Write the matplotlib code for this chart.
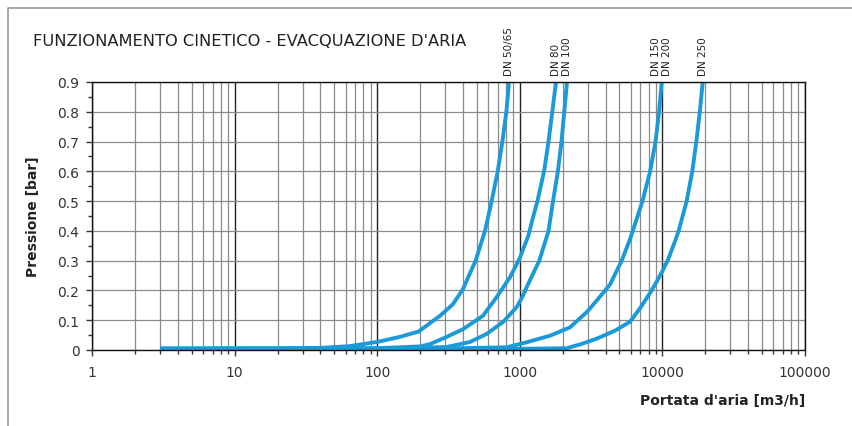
import matplotlib.pyplot as plt
from matplotlib.lines import Line2D
from matplotlib.ticker import FixedLocator, LogLocator, NullFormatter

# curves (flow m3/h, pressure bar)
x_dn50 = [3, 20, 40, 64, 100, 144, 195, 276, 340, 400, 440, 490, 570, 635, 700, 755, 805, 840]
y_dn50 = [0.005, 0.005, 0.007, 0.013, 0.027, 0.044, 0.062, 0.115, 0.154, 0.205, 0.25, 0.3, 0.4, 0.5, 0.6, 0.7, 0.8, 0.9]

x_dn80 = [3, 100, 200, 235, 307, 400, 552, 689, 853, 1003, 1148, 1245, 1330, 1480, 1590, 1690, 1794]
y_dn80 = [0.004, 0.006, 0.012, 0.02, 0.044, 0.07, 0.115, 0.178, 0.244, 0.31, 0.384, 0.45, 0.5, 0.6, 0.7, 0.8, 0.9]

x_dn100 = [3, 100, 307, 448, 586, 763, 951, 1040, 1130, 1370, 1590, 1710, 1850, 1960, 2050, 2143]
y_dn100 = [0.004, 0.004, 0.01, 0.027, 0.054, 0.094, 0.144, 0.177, 0.216, 0.3, 0.4, 0.5, 0.6, 0.7, 0.8, 0.9]

x_dn150 = [3, 300, 809, 1117, 1629, 2249, 2945, 3535, 4292, 5185, 5929, 6603, 7250, 8200, 8950, 9480, 9890]
y_dn150 = [0.004, 0.005, 0.009, 0.026, 0.048, 0.076, 0.127, 0.171, 0.22, 0.3, 0.372, 0.44, 0.5, 0.6, 0.7, 0.8, 0.9]

x_dn250 = [3, 1000, 2133, 2700, 3460, 4650, 5929, 6966, 8414, 9890, 10990, 12250, 13000, 14800, 16200, 17300, 18300, 19170]
y_dn250 = [0.004, 0.004, 0.006, 0.02, 0.038, 0.065, 0.095, 0.14, 0.2, 0.26, 0.305, 0.365, 0.4, 0.5, 0.6, 0.7, 0.8, 0.9]

curve_labels = ["DN 50/65", "DN 80", "DN 100", "DN 150", "DN 200", "DN 250"]
label_x = [840, 1794, 2143, 9020, 10720, 19170]

x_ticks = [1, 10, 100, 1000, 10000, 100000]
x_ticklabels = ["1", "10", "100", "1000", "10000", "100000"]
y_ticks = [0, 0.1, 0.2, 0.3, 0.4, 0.5, 0.6, 0.7, 0.8, 0.9]
y_ticklabels = ["0", "0.1", "0.2", "0.3", "0.4", "0.5", "0.6", "0.7", "0.8", "0.9"]

blue = "#1b9ad8"

fig = plt.figure(figsize=(8.53, 4.27), dpi=100)
ax = fig.add_axes([92 / 853, 76 / 427, 713 / 853, 268 / 427])

ax.set_xscale("log")
ax.set_xlim(1, 100000)
ax.set_ylim(0, 0.9)

# grid: gray minor verticals, black decade lines, gray horizontals
ax.xaxis.set_major_locator(FixedLocator(x_ticks))
ax.xaxis.set_minor_locator(LogLocator(base=10, subs=range(2, 10)))
ax.xaxis.set_minor_formatter(NullFormatter())
ax.set_xticklabels(x_ticklabels)
ax.set_yticks(y_ticks)
ax.set_yticklabels(y_ticklabels)
ax.yaxis.set_minor_locator(FixedLocator([0.05 + 0.1 * i for i in range(9)]))

ax.grid(which="minor", axis="x", color="#8a8a8a", linewidth=0.9)
ax.grid(which="major", axis="x", color="#222222", linewidth=1.0)
ax.grid(which="major", axis="y", color="#8a8a8a", linewidth=0.9)
ax.set_axisbelow(True)

ax.tick_params(which="major", direction="out", length=4, width=1, labelsize=10,
               colors="#333333")
ax.tick_params(which="minor", direction="out", length=3, width=1, colors="#333333")
ax.tick_params(axis="x", which="major", pad=7)
ax.tick_params(axis="y", which="major", pad=5)
for s in ax.spines.values():
    s.set_color("#111111")
    s.set_linewidth(1.0)

for xs, ys in [(x_dn50, y_dn50), (x_dn80, y_dn80), (x_dn100, y_dn100),
               (x_dn150, y_dn150), (x_dn250, y_dn250)]:
    ax.plot(xs, ys, color=blue, linewidth=2.8, solid_capstyle="butt",
            solid_joinstyle="round", clip_on=False)

for lab, lx in zip(curve_labels, label_x):
    ax.text(lx, 1.026, lab, transform=ax.get_xaxis_transform(), rotation=90,
            ha="center", va="bottom", fontsize=7.5, color="#222222")

ax.set_ylabel("Pressione [bar]", fontsize=10, fontweight="bold", color="#222222")
ax.yaxis.set_label_coords(-0.073, 0.5)
fig.text(805 / 853, 1 - 401 / 427, "Portata d'aria [m3/h]", ha="right", va="center",
         fontsize=10, fontweight="bold", color="#222222")

fig.text(33 / 853, 1 - 41 / 427, "FUNZIONAMENTO CINETICO - EVACQUAZIONE D'ARIA",
         ha="left", va="center", fontsize=11.7, color="#222222")

# thin gray frame along left and top
fig.add_artist(Line2D([8 / 853, 8 / 853, 1], [0, 1 - 9 / 427, 1 - 9 / 427],
                      transform=fig.transFigure, color="#9a9a9a", linewidth=1.2))

fig.savefig("out.png", dpi=100)
